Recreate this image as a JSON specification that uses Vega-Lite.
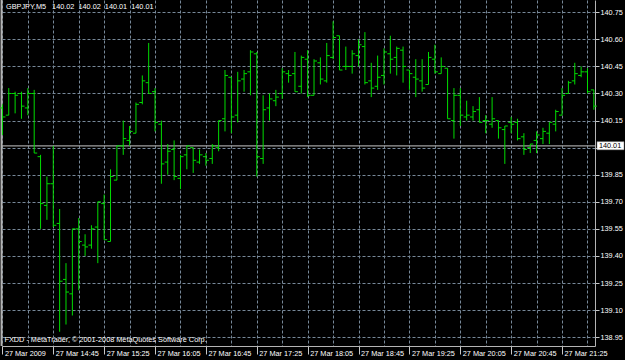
{
  "$schema": "https://vega.github.io/schema/vega-lite/v6.json",
  "width": 593,
  "height": 346,
  "autosize": "none",
  "padding": {"left": 2, "top": 0, "right": 30, "bottom": 14},
  "background": "black",
  "title": {
    "text": "GBPJPY,M5\u00a0\u00a0\u00a0140.02\u00a0\u00a0140.02\u00a0\u00a0140.01\u00a0\u00a0140.01",
    "anchor": "start",
    "frame": "group",
    "offset": -17,
    "baseline": "alphabetic",
    "dx": 4,
    "color": "white",
    "font": "Liberation Sans",
    "fontSize": 7.3,
    "fontWeight": "normal"
  },
  "config": {
    "view": {"stroke": null},
    "axis": {
      "labelFont": "Liberation Sans",
      "labelFontSize": 7.3,
      "labelColor": "white",
      "titleFont": "Liberation Sans",
      "domainColor": "#b4b4b4",
      "tickColor": "#c8c8c8",
      "gridColor": "#778899",
      "gridDash": [3, 2],
      "gridOpacity": 1
    }
  },
  "data": {
    "values": [
      {"t": "2009-03-27T14:05:00Z", "o": 140.22, "h": 140.24, "l": 140.07, "c": 140.17},
      {"t": "2009-03-27T14:10:00Z", "o": 140.18, "h": 140.33, "l": 140.18, "c": 140.30},
      {"t": "2009-03-27T14:15:00Z", "o": 140.30, "h": 140.31, "l": 140.19, "c": 140.29},
      {"t": "2009-03-27T14:20:00Z", "o": 140.30, "h": 140.31, "l": 140.16, "c": 140.23},
      {"t": "2009-03-27T14:25:00Z", "o": 140.22, "h": 140.33, "l": 140.18, "c": 140.30},
      {"t": "2009-03-27T14:30:00Z", "o": 140.30, "h": 140.32, "l": 139.97, "c": 139.97},
      {"t": "2009-03-27T14:35:00Z", "o": 139.95, "h": 139.96, "l": 139.55, "c": 139.69},
      {"t": "2009-03-27T14:40:00Z", "o": 139.68, "h": 139.84, "l": 139.60, "c": 139.80},
      {"t": "2009-03-27T14:45:00Z", "o": 139.80, "h": 140.01, "l": 139.56, "c": 139.57},
      {"t": "2009-03-27T14:50:00Z", "o": 139.58, "h": 139.66, "l": 138.98, "c": 139.26},
      {"t": "2009-03-27T14:55:00Z", "o": 139.27, "h": 139.36, "l": 139.02, "c": 139.20},
      {"t": "2009-03-27T15:00:00Z", "o": 139.19, "h": 139.55, "l": 139.07, "c": 139.55},
      {"t": "2009-03-27T15:05:00Z", "o": 139.55, "h": 139.61, "l": 139.21, "c": 139.48},
      {"t": "2009-03-27T15:10:00Z", "o": 139.46, "h": 139.52, "l": 139.40, "c": 139.45},
      {"t": "2009-03-27T15:15:00Z", "o": 139.46, "h": 139.57, "l": 139.44, "c": 139.55},
      {"t": "2009-03-27T15:20:00Z", "o": 139.56, "h": 139.70, "l": 139.36, "c": 139.70},
      {"t": "2009-03-27T15:25:00Z", "o": 139.69, "h": 139.74, "l": 139.49, "c": 139.49},
      {"t": "2009-03-27T15:30:00Z", "o": 139.48, "h": 139.88, "l": 139.48, "c": 139.84},
      {"t": "2009-03-27T15:35:00Z", "o": 139.82, "h": 140.01, "l": 139.82, "c": 140.01},
      {"t": "2009-03-27T15:40:00Z", "o": 140.01, "h": 140.15, "l": 139.96, "c": 140.05},
      {"t": "2009-03-27T15:45:00Z", "o": 140.04, "h": 140.12, "l": 140.01, "c": 140.09},
      {"t": "2009-03-27T15:50:00Z", "o": 140.08, "h": 140.25, "l": 140.08, "c": 140.24},
      {"t": "2009-03-27T15:55:00Z", "o": 140.25, "h": 140.40, "l": 140.24, "c": 140.37},
      {"t": "2009-03-27T16:00:00Z", "o": 140.36, "h": 140.58, "l": 140.30, "c": 140.30},
      {"t": "2009-03-27T16:05:00Z", "o": 140.31, "h": 140.33, "l": 140.09, "c": 140.14},
      {"t": "2009-03-27T16:10:00Z", "o": 140.13, "h": 140.15, "l": 139.80, "c": 139.91},
      {"t": "2009-03-27T16:15:00Z", "o": 139.92, "h": 140.02, "l": 139.85, "c": 139.98},
      {"t": "2009-03-27T16:20:00Z", "o": 139.99, "h": 140.04, "l": 139.82, "c": 139.84},
      {"t": "2009-03-27T16:25:00Z", "o": 139.83, "h": 139.96, "l": 139.77, "c": 139.95},
      {"t": "2009-03-27T16:30:00Z", "o": 139.96, "h": 140.01, "l": 139.88, "c": 140.01},
      {"t": "2009-03-27T16:35:00Z", "o": 140.00, "h": 140.00, "l": 139.86, "c": 139.93},
      {"t": "2009-03-27T16:40:00Z", "o": 139.92, "h": 139.99, "l": 139.91, "c": 139.96},
      {"t": "2009-03-27T16:45:00Z", "o": 139.95, "h": 139.97, "l": 139.90, "c": 139.93},
      {"t": "2009-03-27T16:50:00Z", "o": 139.94, "h": 140.02, "l": 139.91, "c": 140.01},
      {"t": "2009-03-27T16:55:00Z", "o": 140.00, "h": 140.15, "l": 139.98, "c": 140.15},
      {"t": "2009-03-27T17:00:00Z", "o": 140.16, "h": 140.43, "l": 140.09, "c": 140.40},
      {"t": "2009-03-27T17:05:00Z", "o": 140.39, "h": 140.39, "l": 140.08, "c": 140.17},
      {"t": "2009-03-27T17:10:00Z", "o": 140.18, "h": 140.42, "l": 140.14, "c": 140.37},
      {"t": "2009-03-27T17:15:00Z", "o": 140.38, "h": 140.43, "l": 140.31, "c": 140.41},
      {"t": "2009-03-27T17:20:00Z", "o": 140.42, "h": 140.54, "l": 140.29, "c": 140.53},
      {"t": "2009-03-27T17:25:00Z", "o": 140.52, "h": 140.53, "l": 139.84, "c": 139.95},
      {"t": "2009-03-27T17:30:00Z", "o": 139.94, "h": 140.29, "l": 139.91, "c": 140.21},
      {"t": "2009-03-27T17:35:00Z", "o": 140.22, "h": 140.30, "l": 140.15, "c": 140.27},
      {"t": "2009-03-27T17:40:00Z", "o": 140.26, "h": 140.32, "l": 140.23, "c": 140.28},
      {"t": "2009-03-27T17:45:00Z", "o": 140.30, "h": 140.44, "l": 140.27, "c": 140.42},
      {"t": "2009-03-27T17:50:00Z", "o": 140.41, "h": 140.43, "l": 140.36, "c": 140.40},
      {"t": "2009-03-27T17:55:00Z", "o": 140.41, "h": 140.53, "l": 140.31, "c": 140.31},
      {"t": "2009-03-27T18:00:00Z", "o": 140.34, "h": 140.51, "l": 140.30, "c": 140.50},
      {"t": "2009-03-27T18:05:00Z", "o": 140.49, "h": 140.54, "l": 140.28, "c": 140.29},
      {"t": "2009-03-27T18:10:00Z", "o": 140.29, "h": 140.49, "l": 140.29, "c": 140.48},
      {"t": "2009-03-27T18:15:00Z", "o": 140.47, "h": 140.50, "l": 140.35, "c": 140.38},
      {"t": "2009-03-27T18:20:00Z", "o": 140.37, "h": 140.58, "l": 140.36, "c": 140.51},
      {"t": "2009-03-27T18:25:00Z", "o": 140.50, "h": 140.70, "l": 140.49, "c": 140.61},
      {"t": "2009-03-27T18:30:00Z", "o": 140.62, "h": 140.62, "l": 140.43, "c": 140.43},
      {"t": "2009-03-27T18:35:00Z", "o": 140.45, "h": 140.56, "l": 140.43, "c": 140.45},
      {"t": "2009-03-27T18:40:00Z", "o": 140.45, "h": 140.54, "l": 140.41, "c": 140.52},
      {"t": "2009-03-27T18:45:00Z", "o": 140.51, "h": 140.60, "l": 140.45, "c": 140.57},
      {"t": "2009-03-27T18:50:00Z", "o": 140.56, "h": 140.64, "l": 140.35, "c": 140.36},
      {"t": "2009-03-27T18:55:00Z", "o": 140.37, "h": 140.47, "l": 140.28, "c": 140.33},
      {"t": "2009-03-27T19:00:00Z", "o": 140.34, "h": 140.51, "l": 140.32, "c": 140.39},
      {"t": "2009-03-27T19:05:00Z", "o": 140.40, "h": 140.55, "l": 140.35, "c": 140.53},
      {"t": "2009-03-27T19:10:00Z", "o": 140.52, "h": 140.62, "l": 140.41, "c": 140.49},
      {"t": "2009-03-27T19:15:00Z", "o": 140.50, "h": 140.56, "l": 140.40, "c": 140.55},
      {"t": "2009-03-27T19:20:00Z", "o": 140.54, "h": 140.56, "l": 140.36, "c": 140.45},
      {"t": "2009-03-27T19:25:00Z", "o": 140.43, "h": 140.43, "l": 140.32, "c": 140.41},
      {"t": "2009-03-27T19:30:00Z", "o": 140.39, "h": 140.49, "l": 140.28, "c": 140.38},
      {"t": "2009-03-27T19:35:00Z", "o": 140.37, "h": 140.49, "l": 140.31, "c": 140.33},
      {"t": "2009-03-27T19:40:00Z", "o": 140.35, "h": 140.53, "l": 140.35, "c": 140.50},
      {"t": "2009-03-27T19:45:00Z", "o": 140.49, "h": 140.57, "l": 140.41, "c": 140.42},
      {"t": "2009-03-27T19:50:00Z", "o": 140.41, "h": 140.50, "l": 140.41, "c": 140.45},
      {"t": "2009-03-27T19:55:00Z", "o": 140.44, "h": 140.44, "l": 140.16, "c": 140.16},
      {"t": "2009-03-27T20:00:00Z", "o": 140.15, "h": 140.33, "l": 140.05, "c": 140.29},
      {"t": "2009-03-27T20:05:00Z", "o": 140.29, "h": 140.33, "l": 140.12, "c": 140.18},
      {"t": "2009-03-27T20:10:00Z", "o": 140.17, "h": 140.26, "l": 140.15, "c": 140.18},
      {"t": "2009-03-27T20:15:00Z", "o": 140.17, "h": 140.23, "l": 140.15, "c": 140.20},
      {"t": "2009-03-27T20:20:00Z", "o": 140.21, "h": 140.28, "l": 140.14, "c": 140.14},
      {"t": "2009-03-27T20:25:00Z", "o": 140.15, "h": 140.18, "l": 140.08, "c": 140.15},
      {"t": "2009-03-27T20:30:00Z", "o": 140.13, "h": 140.28, "l": 140.11, "c": 140.16},
      {"t": "2009-03-27T20:35:00Z", "o": 140.15, "h": 140.15, "l": 140.05, "c": 140.11},
      {"t": "2009-03-27T20:40:00Z", "o": 140.10, "h": 140.12, "l": 139.91, "c": 140.12},
      {"t": "2009-03-27T20:45:00Z", "o": 140.14, "h": 140.17, "l": 140.08, "c": 140.13},
      {"t": "2009-03-27T20:50:00Z", "o": 140.14, "h": 140.16, "l": 140.04, "c": 140.05},
      {"t": "2009-03-27T20:55:00Z", "o": 140.06, "h": 140.08, "l": 139.96, "c": 139.99},
      {"t": "2009-03-27T21:00:00Z", "o": 140.00, "h": 140.02, "l": 139.97, "c": 140.02},
      {"t": "2009-03-27T21:05:00Z", "o": 140.04, "h": 140.09, "l": 139.97, "c": 140.07},
      {"t": "2009-03-27T21:10:00Z", "o": 140.05, "h": 140.11, "l": 140.02, "c": 140.09},
      {"t": "2009-03-27T21:15:00Z", "o": 140.08, "h": 140.14, "l": 140.02, "c": 140.14},
      {"t": "2009-03-27T21:20:00Z", "o": 140.13, "h": 140.21, "l": 140.09, "c": 140.20},
      {"t": "2009-03-27T21:25:00Z", "o": 140.18, "h": 140.33, "l": 140.18, "c": 140.29},
      {"t": "2009-03-27T21:30:00Z", "o": 140.30, "h": 140.37, "l": 140.30, "c": 140.36},
      {"t": "2009-03-27T21:35:00Z", "o": 140.37, "h": 140.47, "l": 140.35, "c": 140.41},
      {"t": "2009-03-27T21:40:00Z", "o": 140.40, "h": 140.45, "l": 140.39, "c": 140.42},
      {"t": "2009-03-27T21:45:00Z", "o": 140.42, "h": 140.44, "l": 140.30, "c": 140.31},
      {"t": "2009-03-27T21:50:00Z", "o": 140.32, "h": 140.32, "l": 140.21, "c": 140.23}
    ]
  },
  "encoding": {
    "x": {
      "field": "t",
      "type": "temporal",
      "scale": {
        "type": "utc",
        "domain": [1238162681000, 1238190654000]
      },
      "axis": {
        "orient": "bottom",
        "values": [
          {"year": 2009, "month": 3, "date": 27, "hours": 14, "minutes": 5, "utc": true},
          {"year": 2009, "month": 3, "date": 27, "hours": 14, "minutes": 25, "utc": true},
          {"year": 2009, "month": 3, "date": 27, "hours": 14, "minutes": 45, "utc": true},
          {"year": 2009, "month": 3, "date": 27, "hours": 15, "minutes": 5, "utc": true},
          {"year": 2009, "month": 3, "date": 27, "hours": 15, "minutes": 25, "utc": true},
          {"year": 2009, "month": 3, "date": 27, "hours": 15, "minutes": 45, "utc": true},
          {"year": 2009, "month": 3, "date": 27, "hours": 16, "minutes": 5, "utc": true},
          {"year": 2009, "month": 3, "date": 27, "hours": 16, "minutes": 25, "utc": true},
          {"year": 2009, "month": 3, "date": 27, "hours": 16, "minutes": 45, "utc": true},
          {"year": 2009, "month": 3, "date": 27, "hours": 17, "minutes": 5, "utc": true},
          {"year": 2009, "month": 3, "date": 27, "hours": 17, "minutes": 25, "utc": true},
          {"year": 2009, "month": 3, "date": 27, "hours": 17, "minutes": 45, "utc": true},
          {"year": 2009, "month": 3, "date": 27, "hours": 18, "minutes": 5, "utc": true},
          {"year": 2009, "month": 3, "date": 27, "hours": 18, "minutes": 25, "utc": true},
          {"year": 2009, "month": 3, "date": 27, "hours": 18, "minutes": 45, "utc": true},
          {"year": 2009, "month": 3, "date": 27, "hours": 19, "minutes": 5, "utc": true},
          {"year": 2009, "month": 3, "date": 27, "hours": 19, "minutes": 25, "utc": true},
          {"year": 2009, "month": 3, "date": 27, "hours": 19, "minutes": 45, "utc": true},
          {"year": 2009, "month": 3, "date": 27, "hours": 20, "minutes": 5, "utc": true},
          {"year": 2009, "month": 3, "date": 27, "hours": 20, "minutes": 25, "utc": true},
          {"year": 2009, "month": 3, "date": 27, "hours": 20, "minutes": 45, "utc": true},
          {"year": 2009, "month": 3, "date": 27, "hours": 21, "minutes": 5, "utc": true},
          {"year": 2009, "month": 3, "date": 27, "hours": 21, "minutes": 25, "utc": true},
          {"year": 2009, "month": 3, "date": 27, "hours": 21, "minutes": 45, "utc": true}
        ],
        "labelExpr": "((datum.value - utc(2009,2,27,14,5,0,0)) / 60000) % 40 === 0 ? (datum.value === utc(2009,2,27,14,5,0,0) ? '27 Mar 2009' : utcFormat(datum.value, '%d %b %H:%M')) : ''",
        "labelAlign": "left",
        "labelBaseline": "alphabetic",
        "labelOffset": 2,
        "labelPadding": 1.5,
        "labelFlush": false,
        "labelOverlap": false,
        "tickSize": 8,
        "tickOpacity": {"condition": {"test": "((datum.value - utc(2009,2,27,14,5,0,0)) / 60000) % 40 === 0", "value": 1}, "value": 0},
        "grid": true,
        "title": "FXDD - MetaTrader, © 2001-2008 MetaQuotes Software Corp.",
        "titleX": 2,
        "titleY": -5,
        "titleAlign": "left",
        "titleAnchor": "start",
        "titleBaseline": "alphabetic",
        "titleAngle": 0,
        "titleColor": "white",
        "titleFontSize": 7.3,
        "titleFontWeight": "normal"
      }
    },
    "y": {
      "type": "quantitative",
      "scale": {"domain": [138.901, 140.818], "nice": false, "zero": false},
      "axis": {
        "orient": "right",
        "values": [138.95, 139.1, 139.25, 139.4, 139.55, 139.7, 139.85, 140.0, 140.15, 140.3, 140.45, 140.6, 140.75],
        "labelExpr": "abs(datum.value - 140) < 0.001 ? '' : format(datum.value, '.2f')",
        "labelBaseline": "middle",
        "labelPadding": 1,
        "tickSize": 4,
        "labelFlush": false,
        "labelOverlap": false,
        "grid": true,
        "title": null
      }
    }
  },
  "layer": [
    {
      "data": {"values": [{}]},
      "mark": {"type": "rule", "color": "#a0a0a0", "strokeWidth": 1.3},
      "encoding": {"y": {"datum": 140.01}, "x": null}
    },
    {
      "data": {"values": [{"t": "2009-03-27T14:04:20Z"}]},
      "mark": {"type": "rule", "color": "#b4b4b4", "strokeWidth": 2},
      "encoding": {"y": null}
    },
    {
      "mark": {"type": "rule", "color": "#00dc00", "strokeWidth": 1},
      "encoding": {"y": {"field": "h", "type": "quantitative"}, "y2": {"field": "l"}}
    },
    {
      "mark": {"type": "tick", "orient": "horizontal", "size": 3, "thickness": 1, "xOffset": -1.5, "color": "#00dc00", "opacity": 1},
      "encoding": {"y": {"field": "o", "type": "quantitative"}}
    },
    {
      "mark": {"type": "tick", "orient": "horizontal", "size": 3, "thickness": 1, "xOffset": 1.5, "color": "#00dc00", "opacity": 1},
      "encoding": {"y": {"field": "c", "type": "quantitative"}}
    },
    {
      "data": {"values": [{"t": "2009-03-27T21:52:29Z", "t2": "2009-03-27T22:13:41Z", "p": 140.01}]},
      "mark": {"type": "rect", "color": "white", "stroke": "#808080", "strokeWidth": 0.5, "clip": false},
      "encoding": {
        "x2": {"field": "t2"},
        "y": {"datum": 140.033},
        "y2": {"datum": 139.988}
      }
    },
    {
      "data": {"values": [{"t": "2009-03-27T21:53:59Z", "p": 140.01}]},
      "mark": {"type": "text", "color": "black", "align": "left", "baseline": "middle", "font": "Liberation Sans", "fontSize": 7.3, "clip": false},
      "encoding": {
        "y": {"field": "p", "type": "quantitative"},
        "text": {"field": "p", "type": "quantitative", "format": ".2f"}
      }
    }
  ]
}
